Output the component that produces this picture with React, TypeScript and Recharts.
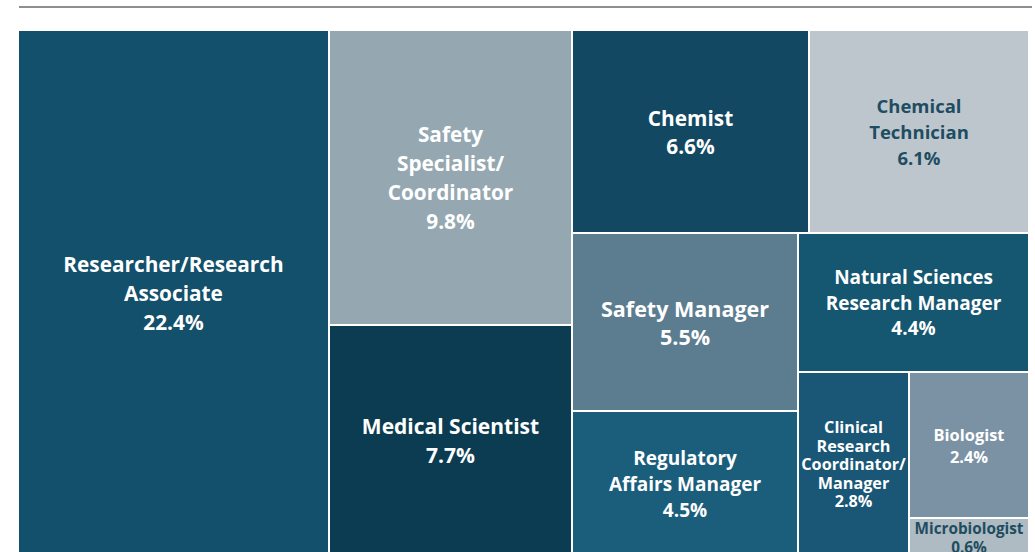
import { Treemap } from 'recharts';

// Доли профессий, %, в порядке убывания (так squarify даёт ту же раскладку).
const names = [
  'Researcher/Research Associate',
  'Safety Specialist/Coordinator',
  'Medical Scientist',
  'Chemist',
  'Chemical Technician',
  'Safety Manager',
  'Regulatory Affairs Manager',
  'Natural Sciences Research Manager',
  'Clinical Research Coordinator/Manager',
  'Biologist',
  'Microbiologist',
];
const shares = [22.4, 9.8, 7.7, 6.6, 6.1, 5.5, 4.5, 4.4, 2.8, 2.4, 0.6];
const labelLines = [
  ['Researcher/Research', 'Associate'],
  ['Safety', 'Specialist/', 'Coordinator'],
  ['Medical Scientist'],
  ['Chemist'],
  ['Chemical', 'Technician'],
  ['Safety Manager'],
  ['Regulatory', 'Affairs Manager'],
  ['Natural Sciences', 'Research Manager'],
  ['Clinical', 'Research', 'Coordinator/', 'Manager'],
  ['Biologist'],
  ['Microbiologist'],
];

// оформление плиток
const tileColors = [
  '#13506b', '#95a8b1', '#0b3c52', '#134862', '#bec6cd', '#5c7d90',
  '#1b5e7c', '#155671', '#1a5675', '#7a92a4', '#aebbc2',
];
const textColors = [
  '#fff', '#fff', '#fff', '#fff', '#1e4d61', '#fff',
  '#fff', '#fff', '#fff', '#fff', '#1e4d61',
];
const fontSizes = [20.8, 20.8, 21, 20.8, 18.5, 21.5, 19, 19, 16.2, 16.4, 15.3];
const lineHeights = [29, 29, 29, 28, 26, 28, 26, 25.5, 18.5, 22, 19];

const data = names.map((name, i) => ({
  name,
  size: shares[i],
  idx: i,
}));

type TileProps = {
  x?: number;
  y?: number;
  width?: number;
  height?: number;
  depth?: number;
  idx?: number;
};

function Tile({ x = 0, y = 0, width = 0, height = 0, depth, idx }: TileProps) {
  if (depth !== 1 || idx === undefined) return null;
  const fs = fontSizes[idx];
  const lh = lineHeights[idx];
  const lines = [...labelLines[idx], `${shares[idx]}%`];
  const cx = x + width / 2;
  const cy = y + height / 2;
  const top = cy - (lines.length * lh) / 2 + lh / 2;
  return (
    <g>
      <rect x={x} y={y} width={width} height={height} fill={tileColors[idx]} stroke="#fff" strokeWidth={2} />
      {lines.map((t, k) => (
        <text
          key={k}
          x={cx}
          y={top + k * lh}
          textAnchor="middle"
          dominantBaseline="central"
          fill={textColors[idx]}
          fontSize={fs}
          fontWeight={700}
          fontFamily="'Open Sans', sans-serif"
        >
          {t}
        </text>
      ))}
    </g>
  );
}

export default function App() {
  return (
    <div
      style={{
        position: 'absolute',
        left: 0,
        top: 0,
        width: 1035,
        height: 552,
        overflow: 'hidden',
        background: '#fff',
      }}
    >
      <div style={{ position: 'absolute', left: 19, top: 6, width: 1013, height: 2, background: '#8e8e8e' }} />
      <div style={{ position: 'absolute', left: 18, top: 30 }}>
        <Treemap
          width={1011}
          height={526}
          data={data}
          dataKey="size"
          aspectRatio={1}
          isAnimationActive={false}
          content={<Tile />}
        />
      </div>
    </div>
  );
}
